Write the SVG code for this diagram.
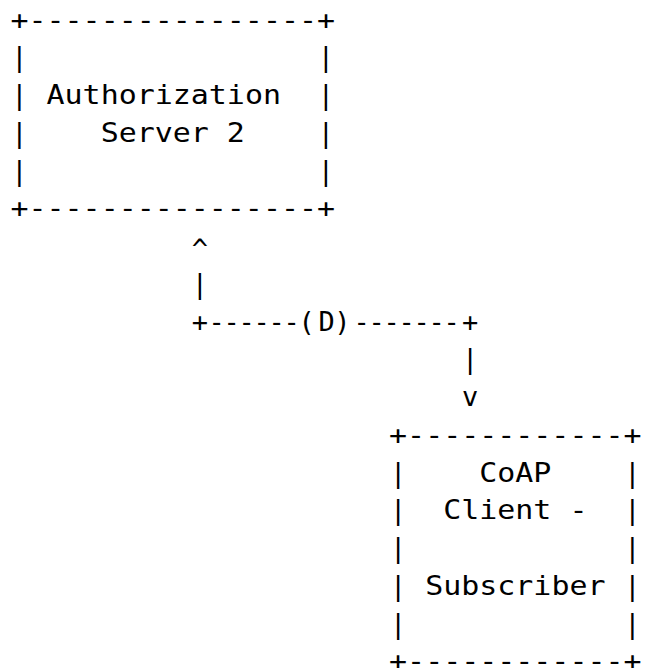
<svg xmlns="http://www.w3.org/2000/svg" width="647" height="668" viewBox="0 0 647 668">
<style>
text{font-family:"DejaVu Sans Mono","Liberation Mono",monospace;font-size:27px;fill:#000}
.c{text-anchor:middle}
</style>
<rect width="647" height="668" fill="#fff"/>
<g id="as2">
<text x="10.5" y="28.5" textLength="324.5" lengthAdjust="spacingAndGlyphs">+----------------+</text>
<text class="c" x="19.5" y="66.25">|</text><text class="c" x="326" y="66.25">|</text>
<text class="c" x="19.5" y="104">|</text><text x="46.56" y="104" textLength="234.4" lengthAdjust="spacingAndGlyphs">Authorization</text><text class="c" x="326" y="104">|</text>
<text class="c" x="19.5" y="141.75">|</text><text x="100.65" y="141.75" textLength="144.24" lengthAdjust="spacingAndGlyphs">Server 2</text><text class="c" x="326" y="141.75">|</text>
<text class="c" x="19.5" y="179.5">|</text><text class="c" x="326" y="179.5">|</text>
<text x="10.5" y="217.25" textLength="324.5" lengthAdjust="spacingAndGlyphs">+----------------+</text>
</g>
<g id="connectors">
<text class="c" x="199.8" y="258">^</text>
<text class="c" x="199.8" y="292.75">|</text>
<text class="c" x="199.8 216.7 231.7 246.7 261.7 276.7 291.7 306.7 326.7 342.5 361.7 376.7 391.7 406.7 421.7 436.7 451.7 470.25" y="330.5">+------(D)-------+</text>
<text class="c" x="470.25" y="368.25">|</text>
<text class="c" x="470.25" y="406">v</text>
</g>
<g id="client">
<text x="389.1" y="443.75" textLength="252.4" lengthAdjust="spacingAndGlyphs">+------------+</text>
<text class="c" x="398.1" y="481.5">|</text><text x="479.3" y="481.5" textLength="72.1" lengthAdjust="spacingAndGlyphs">CoAP</text><text class="c" x="632.5" y="481.5">|</text>
<text class="c" x="398.1" y="519.25">|</text><text x="443.2" y="519.25" textLength="144.24" lengthAdjust="spacingAndGlyphs">Client -</text><text class="c" x="632.5" y="519.25">|</text>
<text class="c" x="398.1" y="557">|</text><text class="c" x="632.5" y="557">|</text>
<text class="c" x="398.1" y="594.75">|</text><text x="425.2" y="594.75" textLength="180.3" lengthAdjust="spacingAndGlyphs">Subscriber</text><text class="c" x="632.5" y="594.75">|</text>
<text class="c" x="398.1" y="632.5">|</text><text class="c" x="632.5" y="632.5">|</text>
<text x="389.1" y="670.25" textLength="252.4" lengthAdjust="spacingAndGlyphs">+------------+</text>
</g>
</svg>
